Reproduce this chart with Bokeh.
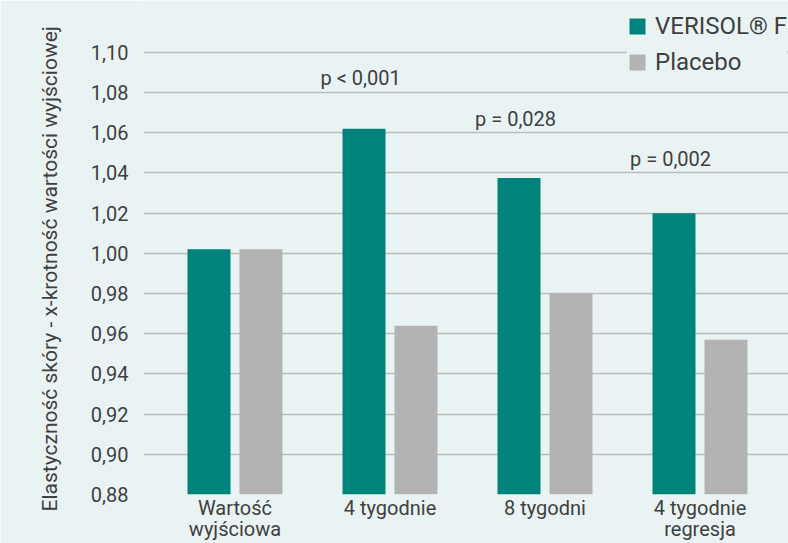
import math
from bokeh.plotting import figure
from bokeh.models import (ColumnDataSource, Range1d, FixedTicker, CustomJSTickFormatter,
                          Legend, LegendItem, LinearAxis, Title)
from bokeh.transform import dodge
from bokeh.core.properties import value
from bokeh.embed import file_html
from bokeh.resources import INLINE

# ---- data ----
categories = ["Wartość\nwyjściowa", "4 tygodnie", "8 tygodni", "4 tygodnie\nregresja"]
verisol = [1.002, 1.062, 1.0375, 1.020]
placebo = [1.002, 0.964, 0.980, 0.957]
series_names = ["VERISOL® F", "Placebo"]
p_labels = ["p < 0,001", "p = 0,028", "p = 0,002"]
p_category = [1, 2, 3]
p_level = [1.087, 1.067, 1.047]
y_ticks = [0.88, 0.90, 0.92, 0.94, 0.96, 0.98, 1.00, 1.02, 1.04, 1.06, 1.08, 1.10]
y_title = "Elastyczność skóry -  x-krotność wartości wyjściowej"

# ---- style ----
BG = "#e9f3f3"
TEAL = "#00837b"
GRAY = "#b3b3b3"
TXT = "#404040"
GRID = "#bdbdbd"
FONT = "Roboto"

xs = list(range(len(categories)))
first_lines = [c.split("\n")[0] for c in categories]
second_lines = [c.split("\n")[1] if "\n" in c else "" for c in categories]

src = ColumnDataSource(dict(x=xs, v=verisol, p=placebo))
psrc = ColumnDataSource(dict(x=p_category, y=p_level, t=p_labels))

X0, X1 = -0.5903, 3.5710
p = figure(width=788, height=543, output_backend="svg", toolbar_location=None,
           x_range=Range1d(X0, X1), y_range=Range1d(0.88, 1.1258),
           min_border_left=143, min_border_right=0, min_border_top=0, min_border_bottom=48,
           background_fill_color=BG, border_fill_color=BG, outline_line_color=None)

W = 0.2774
r1 = p.vbar(x=dodge("x", -0.1677, range=p.x_range), top="v", bottom=0.88, width=W,
            source=src, fill_color=TEAL, line_color=None)
r2 = p.vbar(x=dodge("x", 0.1677, range=p.x_range), top="p", bottom=0.88, width=W,
            source=src, fill_color=GRAY, line_color=None)

p.text(x=dodge("x", -0.19, range=p.x_range), y="y", text="t", source=psrc,
       text_font=value(FONT), text_font_size="20px", text_color=TXT,
       text_align="center", text_baseline="middle")

# y axis
p.yaxis.ticker = FixedTicker(ticks=y_ticks)
p.yaxis.formatter = CustomJSTickFormatter(code="return tick.toFixed(2).replace('.', ',')")
p.yaxis.major_label_text_font = FONT
p.yaxis.major_label_text_font_size = "20px"
p.yaxis.major_label_text_color = TXT
p.yaxis.axis_line_color = None
p.yaxis.major_tick_line_color = None
p.yaxis.minor_tick_line_color = None
p.yaxis.major_tick_out = 0
p.yaxis.major_tick_in = 0
p.yaxis.major_label_standoff = 15


def style_xaxis(ax, labels, standoff):
    ax.ticker = FixedTicker(ticks=xs)
    ax.formatter = CustomJSTickFormatter(args=dict(labels=labels),
                                         code="return labels[Math.round(tick)]")
    ax.major_label_text_font = FONT
    ax.major_label_text_font_size = "20px"
    ax.major_label_text_color = TXT
    ax.axis_line_color = None
    ax.major_tick_line_color = None
    ax.minor_tick_line_color = None
    ax.major_tick_out = 0
    ax.major_tick_in = 0
    ax.major_label_standoff = standoff


# x axis: first line of each category, second line on a second axis below it
style_xaxis(p.xaxis[0], first_lines, 1)
ax2 = LinearAxis()
style_xaxis(ax2, second_lines, -6)
p.add_layout(ax2, "below")

p.xgrid.visible = False
p.ygrid.grid_line_color = GRID
p.ygrid.grid_line_width = 1.5

# y title
tkw = dict(text=y_title, align="left", offset=-17, text_font=FONT,
           text_font_size="21px", text_font_style="normal", text_color=TXT)
if "standoff" in Title.properties():
    tkw["standoff"] = 51
p.add_layout(Title(**tkw), "left")

legend = Legend(items=[LegendItem(label=series_names[0], renderers=[r1]),
                       LegendItem(label=series_names[1], renderers=[r2])],
                location=(484, 418), glyph_width=20, glyph_height=20, label_height=20,
                label_text_font=FONT, label_text_font_size="24px", label_text_color=TXT,
                label_standoff=8, spacing=8, padding=0, margin=0,
                background_fill_color=BG, background_fill_alpha=1.0,
                border_line_color=None)
p.add_layout(legend)

open("out.html", "w").write(file_html(p, INLINE))
